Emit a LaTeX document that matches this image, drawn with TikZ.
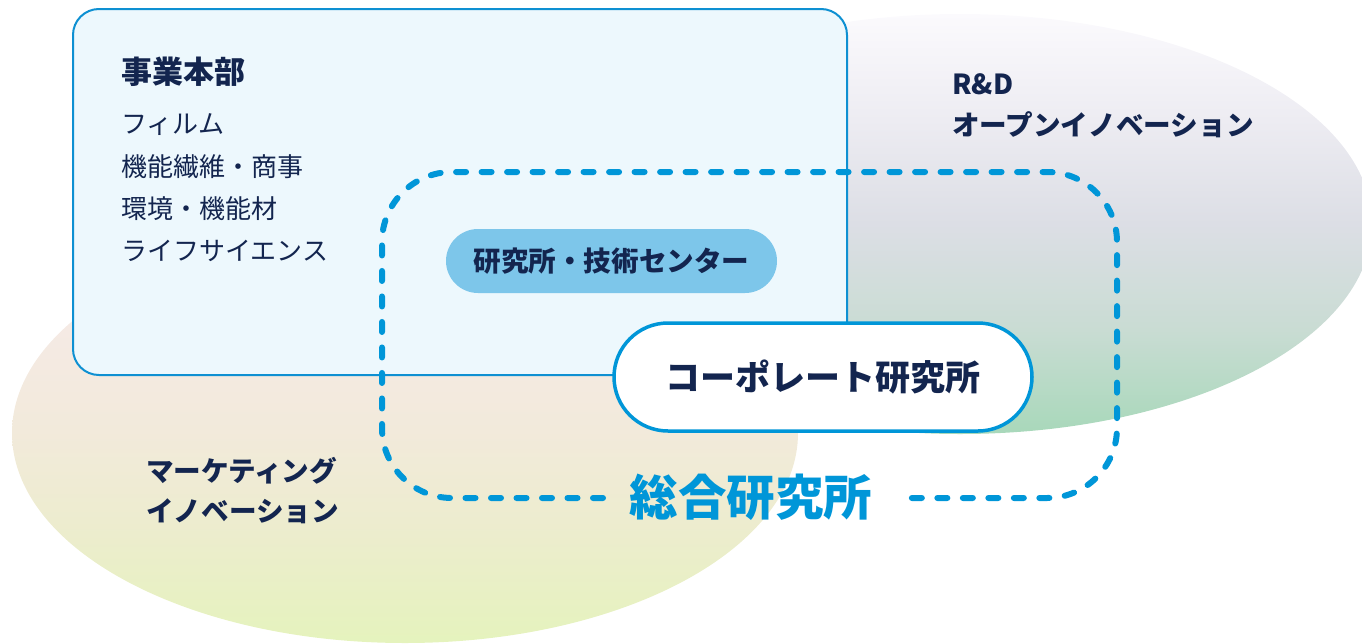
\documentclass[tikz,border=0pt]{standalone}
\usepackage{fontspec}
\setmainfont{Noto Sans CJK JP}
\usepackage{tikz}

\definecolor{navy}{HTML}{13254F}
\definecolor{lineblue}{HTML}{0E90D2}
\definecolor{dashblue}{HTML}{0096D8}
\definecolor{boxfill}{HTML}{EDF8FD}
\definecolor{pillfill}{HTML}{7DC6EA}
\definecolor{mkA}{HTML}{E5F3BD}
\definecolor{mkB}{HTML}{EDECCF}
\definecolor{mkC}{HTML}{F2EADB}
\definecolor{mkD}{HTML}{F5EAE5}
\definecolor{mkE}{HTML}{F6E8E8}
\definecolor{rdA}{HTML}{A8D8BA}
\definecolor{rdB}{HTML}{C9DCD3}
\definecolor{rdC}{HTML}{DCDEE5}
\definecolor{rdD}{HTML}{EDECF2}
\definecolor{rdE}{HTML}{FBFAFD}
\pgfdeclareverticalshading{mkshade}{100bp}{color(0bp)=(mkA); color(25bp)=(mkA);
    color(39.6bp)=(mkB); color(50.4bp)=(mkC); color(63.5bp)=(mkD);
    color(75bp)=(mkE); color(100bp)=(mkE)}
\pgfdeclareverticalshading{rdshade}{100bp}{color(0bp)=(rdA); color(25bp)=(rdA);
    color(37.4bp)=(rdB); color(50bp)=(rdC); color(62.4bp)=(rdD);
    color(75bp)=(rdE); color(100bp)=(rdE)}

\begin{document}
\begin{tikzpicture}[x=1pt,y=-1pt]
    \tikzstyle{every node}+=[inner sep=0pt]
    \tikzstyle{headtext}=[anchor=west,text=navy,font=\fontsize{31}{36}\selectfont\bfseries]
    \tikzstyle{listtext}=[anchor=west,text=navy,font=\fontsize{26}{30}\selectfont]
    \tikzstyle{areatext}=[anchor=west,text=navy,font=\fontsize{27.6}{32}\selectfont\bfseries]
    \path [use as bounding box] (0,0) rectangle (1362,643);
    \clip (0,0) rectangle (1362,643);
    % background areas
    \shade [shading=mkshade] (405,433) ellipse (393 and 210);
    \shade [shading=rdshade] (960,224) ellipse (412 and 210);
    \draw [lineblue, fill=boxfill, line width=2pt, rounded corners=26pt] (73,9) rectangle (847,375);
    % dashed frame
    \draw [dashblue, line width=6pt, line cap=round, dash pattern=on 10pt off 15.5pt, rounded corners=70pt]
        (603,498) -- (382,498) -- (382,172) -- (1117,172) -- (1117,498) -- (900,498);
    % labels
    \node [headtext] (jigyo) at (121,72) {事業本部};
    \node [listtext] (film) at (121,125) {フィルム};
    \node [listtext] (seni) at (121,167) {機能繊維・商事};
    \node [listtext] (kankyo) at (121,209) {環境・機能材};
    \node [listtext] (life) at (121,251) {ライフサイエンス};
    \node [areatext] (rd) at (952,84) {R\&D};
    \node [areatext] (open) at (952,125) {オープンイノベーション};
    \node [areatext] (mkt) at (146,471) {マーケティング};
    \node [areatext] (inno) at (146,511) {イノベーション};
    \node [fill=pillfill, minimum width=331pt, minimum height=64pt, rounded corners=32pt,
        text=navy, font=\fontsize{27.6}{32}\selectfont\bfseries] (center) at (611.5,261) {研究所・技術センター};
    \node [draw=dashblue, line width=3.5pt, fill=white, minimum width=418pt, minimum height=108pt,
        rounded corners=54pt, text=navy, font=\fontsize{35}{40}\selectfont\bfseries] (corp) at (823,377) {コーポレート研究所};
    \node [text=dashblue, font=\fontsize{48.5}{56}\selectfont\bfseries] (sogo) at (751,497) {総合研究所};
\end{tikzpicture}
\end{document}
